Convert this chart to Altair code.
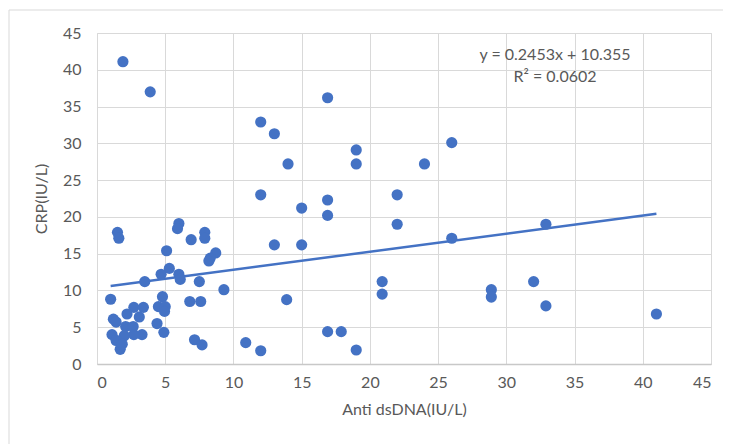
import altair as alt
import pandas as pd

anti_dsdna = [1.9, 3.9, 16.9, 12.0, 13.0, 26.0, 19.0, 14.0, 19.0, 24.0,
              12.0, 22.0, 16.9, 15.0, 16.9, 22.0, 32.9, 6.0, 5.9, 1.5,
              1.6, 7.9, 7.9, 6.9, 26.0, 13.0, 15.0, 5.1, 8.7, 8.3,
              8.2, 5.3, 4.7, 6.0, 6.1, 3.5, 7.5, 20.9, 32.0, 9.3,
              28.9, 20.9, 28.9, 1.0, 4.8, 13.9, 6.8, 7.6, 4.5, 5.0,
              4.95, 32.9, 41.0, 2.7, 3.4, 2.2, 3.1, 1.2, 1.4, 4.4,
              2.1, 2.65, 1.1, 3.3, 2.7, 2.0, 4.9, 1.4, 1.7, 1.85,
              7.15, 7.7, 10.9, 12.0, 16.9, 17.9, 19.0]

crp = [41.1, 37.0, 36.2, 32.9, 31.3, 30.1, 29.1, 27.2, 27.2, 27.2,
       23.0, 23.0, 22.3, 21.2, 20.2, 19.0, 19.0, 19.1, 18.4, 17.9,
       17.1, 17.9, 17.1, 16.9, 17.1, 16.2, 16.2, 15.4, 15.1, 14.4,
       14.0, 13.0, 12.2, 12.2, 11.5, 11.2, 11.2, 11.2, 11.2, 10.1,
       10.1, 9.5, 9.1, 8.8, 9.15, 8.75, 8.5, 8.5, 7.8, 7.8,
       7.15, 7.9, 6.8, 7.7, 7.7, 6.8, 6.4, 6.1, 5.7, 5.5,
       5.1, 5.1, 4.0, 4.0, 4.0, 3.85, 4.3, 3.2, 2.0, 2.7,
       3.3, 2.6, 2.9, 1.8, 4.4, 4.4, 1.9]

slope = 0.2453
intercept = 10.355
r_squared = 0.0602
axis_ticks = [0, 5, 10, 15, 20, 25, 30, 35, 40, 45]

eq_line1 = f"y = {slope}x + {intercept}"
eq_line2 = f"R\u00b2 = {r_squared}"

points = pd.DataFrame({"anti": anti_dsdna, "crp": crp})
x_min, x_max = min(anti_dsdna), max(anti_dsdna)
trend = pd.DataFrame({"anti": [x_min, x_max],
                      "crp": [slope * x_min + intercept, slope * x_max + intercept]})

BLUE = "#4472C4"
GRAY_TXT = "#595959"
FONT = "Lato"
FS = 16

xscale = alt.Scale(domain=[0, 45], nice=False, zero=True)
yscale = alt.Scale(domain=[0, 45], nice=False, zero=True)

xaxis = alt.Axis(title="Anti dsDNA(IU/L)", values=axis_ticks, grid=True,
                 gridColor="#d9d9d9", ticks=False, domainColor="#c8c8c8",
                 domainWidth=1.5, labelColor=GRAY_TXT, labelFontSize=FS,
                 labelFont=FONT, labelPadding=10, labelOverlap=False,
                 titleFont=FONT, titleFontSize=FS, titleFontWeight="normal",
                 titleColor=GRAY_TXT, titlePadding=11)
yaxis = alt.Axis(title="CRP(IU/L)", values=axis_ticks, grid=True,
                 gridColor="#d9d9d9", ticks=False, domain=False,
                 labelColor=GRAY_TXT, labelFontSize=FS, labelFont=FONT,
                 labelPadding=16, labelOverlap=False, titleFont=FONT,
                 titleFontSize=FS, titleFontWeight="normal", titleColor=GRAY_TXT,
                 titlePadding=13)

frame = alt.Chart(pd.DataFrame({"a": [0]})).mark_rect(
    fill="white", fillOpacity=0, stroke="#d9d9d9", strokeWidth=1
).encode(x=alt.value(-88), x2=alt.value(640), y=alt.value(-23), y2=alt.value(420))

pts = alt.Chart(points).mark_circle(size=125, color=BLUE, opacity=1).encode(
    x=alt.X("anti:Q", scale=xscale, axis=xaxis),
    y=alt.Y("crp:Q", scale=yscale, axis=yaxis),
)

line = alt.Chart(trend).mark_line(color=BLUE, strokeWidth=2.5).encode(
    x=alt.X("anti:Q", scale=xscale, axis=xaxis),
    y=alt.Y("crp:Q", scale=yscale, axis=yaxis),
)

eq1 = alt.Chart(pd.DataFrame({"t": [eq_line1]})).mark_text(
    font=FONT, fontSize=FS, color=GRAY_TXT, align="center", baseline="middle"
).encode(text="t:N", x=alt.value(458), y=alt.value(22))

eq2 = alt.Chart(pd.DataFrame({"t": [eq_line2]})).mark_text(
    font=FONT, fontSize=FS, color=GRAY_TXT, align="center", baseline="middle"
).encode(text="t:N", x=alt.value(458), y=alt.value(44))

chart = alt.layer(frame, line, pts, eq1, eq2).properties(
    width=614, height=331,
    autosize=alt.AutoSizeParams(type="none"),
    padding={"left": 89, "top": 25, "right": 12, "bottom": 80},
).configure_view(stroke=None).configure(background="white")

chart.save("out.html", embed_options={"renderer": "svg", "actions": False})
